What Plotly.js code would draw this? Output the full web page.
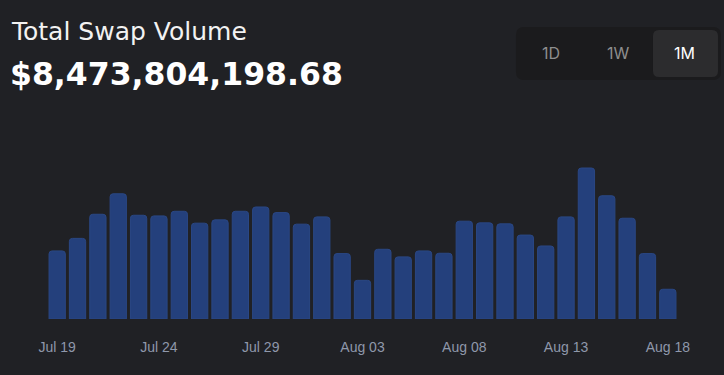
<!DOCTYPE html>
<html>
<head>
<meta charset="utf-8">
<script src="https://cdn.plot.ly/plotly-3.0.1.min.js"></script>
<style>
html,body{margin:0;padding:0;background:#202125;}
#chart{width:724px;height:375px;}
</style>
</head>
<body>
<div id="chart"></div>
<script>
// Data
const dates = [
  "2023-07-19","2023-07-20","2023-07-21","2023-07-22","2023-07-23","2023-07-24","2023-07-25","2023-07-26",
  "2023-07-27","2023-07-28","2023-07-29","2023-07-30","2023-07-31","2023-08-01","2023-08-02","2023-08-03",
  "2023-08-04","2023-08-05","2023-08-06","2023-08-07","2023-08-08","2023-08-09","2023-08-10","2023-08-11",
  "2023-08-12","2023-08-13","2023-08-14","2023-08-15","2023-08-16","2023-08-17","2023-08-18"
];
// daily swap volume, millions USD (estimated)
const volumeM = [
  206,244,317,379,314,312,326,290,300,326,339,322,287,309,198,117,
  211,188,206,199,296,291,288,254,221,309,457,373,305,198,90
];
const titleText = "Total Swap Volume";
const totalText = "$8,473,804,198.68";
const ranges = ["1D","1W","1M"];
const activeRange = "1M";

// layout geometry (pixels)
const W = 724, H = 375;
const mL = 47, mR = 46, mT = 130, mB = 56;
const pw = W - mL - mR, ph = H - mT - mB;
const px = x => (x - mL) / pw;
const py = y => (H - mB - y) / ph;

function roundRect(x0, y0, x1, y1, r) {
  const X = v => px(v).toFixed(5), Y = v => py(v).toFixed(5);
  return `M${X(x0+r)},${Y(y0)} L${X(x1-r)},${Y(y0)} Q${X(x1)},${Y(y0)} ${X(x1)},${Y(y0+r)} ` +
         `L${X(x1)},${Y(y1-r)} Q${X(x1)},${Y(y1)} ${X(x1-r)},${Y(y1)} ` +
         `L${X(x0+r)},${Y(y1)} Q${X(x0)},${Y(y1)} ${X(x0)},${Y(y1-r)} ` +
         `L${X(x0)},${Y(y0+r)} Q${X(x0)},${Y(y0)} ${X(x0+r)},${Y(y0)} Z`;
}

const trace = {
  type: "bar",
  x: dates,
  y: volumeM,
  marker: {color: "#24407c", line: {color: "#2a4784", width: 1}, cornerradius: 3},
  hoverinfo: "skip"
};

const btnX = [551, 618, 685];
const annotations = [
  {text: titleText, xref: "paper", yref: "paper", x: px(9), y: py(32), xanchor: "left", yanchor: "middle",
   showarrow: false, font: {family: "DejaVu Sans, sans-serif", size: 25, color: "#f2f2f2"}},
  {text: "<b>" + totalText + "</b>", xref: "paper", yref: "paper", x: px(8), y: py(74), xanchor: "left", yanchor: "middle",
   showarrow: false, font: {family: "DejaVu Sans, sans-serif", size: 31.5, color: "#ffffff"}}
];
ranges.forEach((r, i) => {
  annotations.push({text: r, xref: "paper", yref: "paper", x: px(btnX[i]), y: py(53), xanchor: "center", yanchor: "middle",
    showarrow: false, font: {family: "Inter, sans-serif", size: 16, color: r === activeRange ? "#ffffff" : "#8e8e8e"}});
});

const shapes = [
  {type: "path", xref: "paper", yref: "paper", path: roundRect(516, 27, 721, 80, 8), fillcolor: "#1b1b1d", line: {width: 0}, layer: "below"},
  {type: "path", xref: "paper", yref: "paper", path: roundRect(653, 30, 718, 77, 6), fillcolor: "#2c2c2e", line: {width: 0}, layer: "below"}
];

const layout = {
  width: W, height: H,
  margin: {l: mL, r: mR, t: mT, b: mB, pad: 0},
  paper_bgcolor: "#202125",
  plot_bgcolor: "#202125",
  showlegend: false,
  bargap: 0.2,
  xaxis: {
    type: "date",
    range: ["2023-07-18 12:00", "2023-08-18 12:00"],
    tick0: "2023-07-19", dtick: 5 * 86400000,
    tickformat: "%b %d",
    showgrid: false, zeroline: false, showline: false, ticks: "",
    tickfont: {family: "Liberation Sans, Arial, sans-serif", size: 14, color: "#8f98ab"},
    ticklabelstandoff: 18
  },
  yaxis: {range: [0, 572], visible: false, showgrid: false, zeroline: false, fixedrange: true},
  annotations: annotations,
  shapes: shapes
};

Plotly.newPlot("chart", [trace], layout, {displayModeBar: false, staticPlot: true});
</script>
</body>
</html>
